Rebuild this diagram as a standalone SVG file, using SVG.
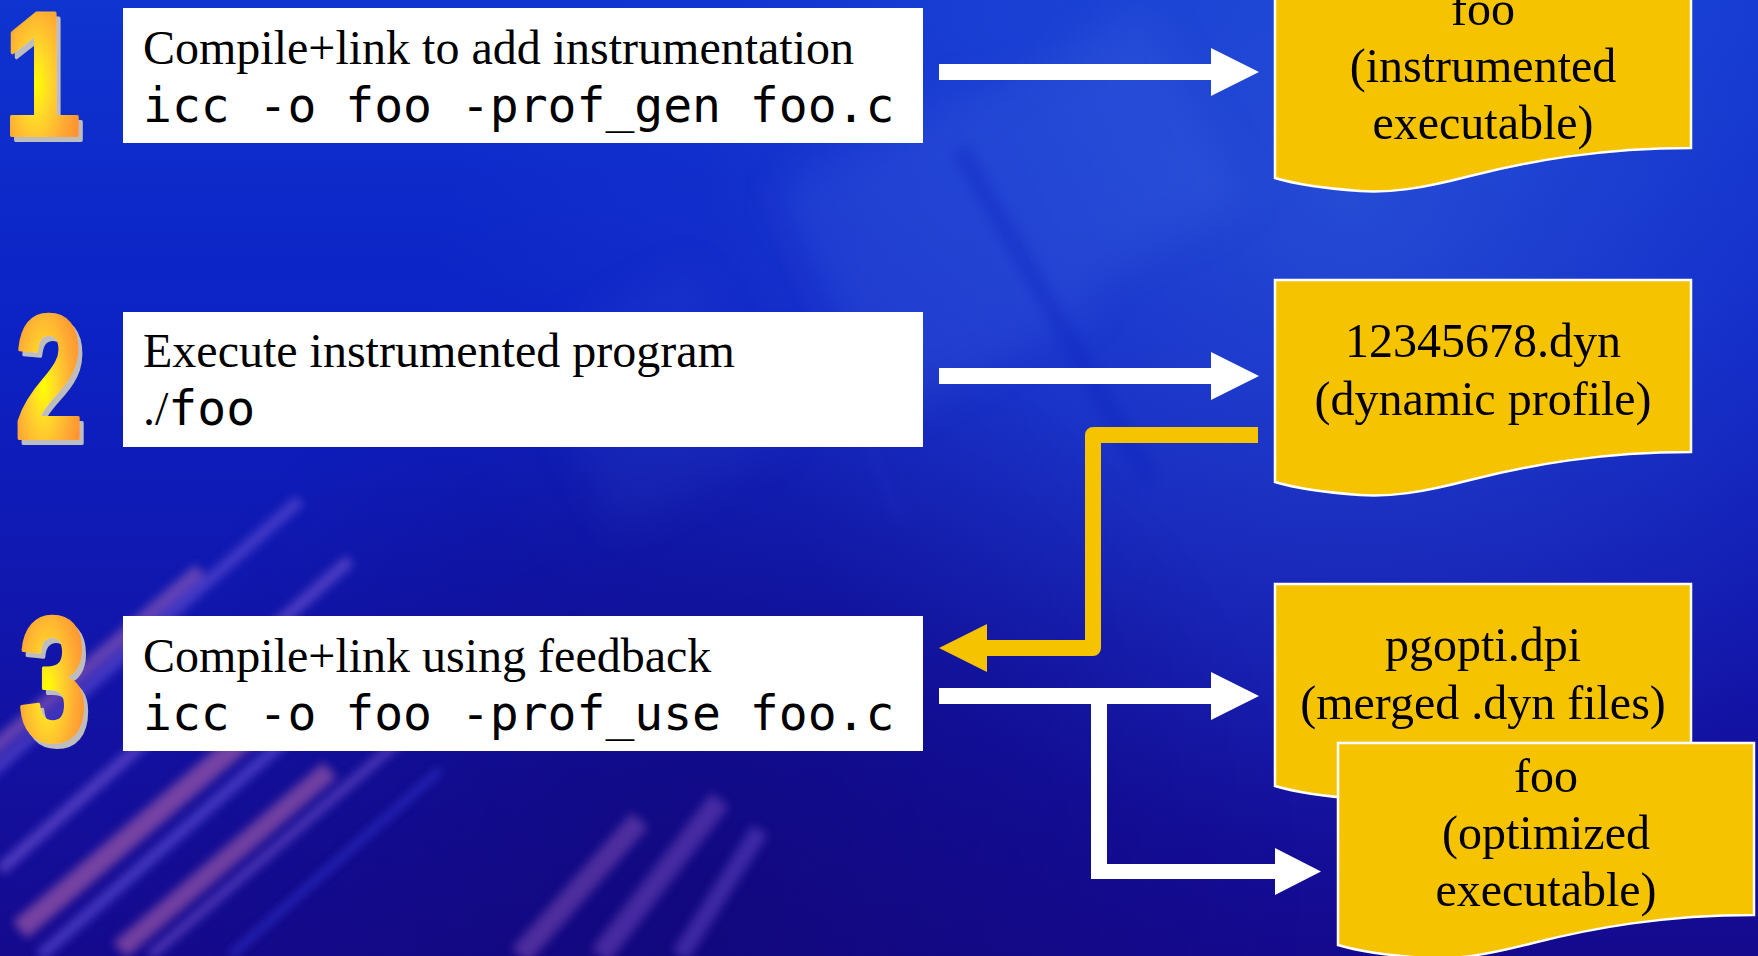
<svg xmlns="http://www.w3.org/2000/svg" xmlns:xlink="http://www.w3.org/1999/xlink" width="1758" height="956" viewBox="0 0 1758 956">
  <defs>
    <style>
      .box { fill: #ffffff; }
      .serif { font-family: "Liberation Serif", "Times New Roman", serif; font-size: 48px; fill: #000000; }
      .mono { font-family: "DejaVu Sans Mono", "Liberation Mono", monospace; font-size: 48px; fill: #000000; }
      .doctext { font-family: "Liberation Serif", "Times New Roman", serif; font-size: 48px; fill: #000000; text-anchor: middle; }
      .digit { font-family: "Liberation Sans", Arial, sans-serif; font-weight: bold; font-size: 176px; text-anchor: middle;
               fill: url(#digitGrad); stroke: url(#digitGrad); stroke-width: 4; stroke-linejoin: round; filter: url(#digitShadow); }
      .doc { fill: #f5c300; stroke: #ffffff; stroke-width: 2.5; }
      .flow { fill: #ffffff; }
      .feedback { fill: none; stroke: #f5c300; stroke-width: 16; stroke-linejoin: round; }
      .feedback-head { fill: #f5c300; }
    </style>

    <linearGradient id="bgBase" x1="0" y1="0" x2="0" y2="1">
      <stop offset="0" stop-color="#0f34d0"/>
      <stop offset="0.35" stop-color="#0c22c4"/>
      <stop offset="0.7" stop-color="#1214a8"/>
      <stop offset="1" stop-color="#150a8e"/>
    </linearGradient>
    <radialGradient id="glowTR" cx="1350" cy="200" r="650" gradientUnits="userSpaceOnUse">
      <stop offset="0" stop-color="#3d6ce0" stop-opacity="0.5"/>
      <stop offset="1" stop-color="#3d6ce0" stop-opacity="0"/>
    </radialGradient>
    <radialGradient id="glowMid" cx="850" cy="300" r="420" gradientUnits="userSpaceOnUse">
      <stop offset="0" stop-color="#2a48d8" stop-opacity="0.25"/>
      <stop offset="1" stop-color="#2a48d8" stop-opacity="0"/>
    </radialGradient>
    <radialGradient id="darkBR" cx="700" cy="900" r="600" gradientUnits="userSpaceOnUse">
      <stop offset="0" stop-color="#10066e" stop-opacity="0.55"/>
      <stop offset="1" stop-color="#10066e" stop-opacity="0"/>
    </radialGradient>
    <radialGradient id="digitGrad" cx="0.42" cy="0.55" r="0.6">
      <stop offset="0" stop-color="#ffff00"/>
      <stop offset="0.3" stop-color="#ffd82a"/>
      <stop offset="0.7" stop-color="#ffa834"/>
      <stop offset="1" stop-color="#ff9030"/>
    </radialGradient>
    <filter id="digitShadow" x="-10%" y="-10%" width="130%" height="130%">
      <feFlood flood-color="#bdbdbd" result="grey"/>
      <feComposite in="grey" in2="SourceAlpha" operator="in" result="silhouette"/>
      <feOffset in="silhouette" dx="5" dy="5" result="dropped"/>
      <feMerge>
        <feMergeNode in="dropped"/>
        <feMergeNode in="SourceGraphic"/>
      </feMerge>
    </filter>
    <filter id="soft" x="-20%" y="-20%" width="140%" height="140%">
      <feGaussianBlur stdDeviation="5"/>
    </filter>
    <filter id="softer" x="-30%" y="-30%" width="160%" height="160%">
      <feGaussianBlur stdDeviation="20"/>
    </filter>

    <!-- document shape: flat top, wavy bottom edge -->
    <path id="docShape" d="M0,0 H416 V172 C325,172 255,185 195,200 C145,213 115,217 85,215 C45,212 20,208 0,202 Z"/>
  </defs>

  <!-- backdrop -->
  <g id="background">
    <rect width="1758" height="956" fill="url(#bgBase)"/>
    <rect width="1758" height="956" fill="url(#glowTR)"/>
    <rect width="1758" height="956" fill="url(#glowMid)"/>
    <g filter="url(#softer)" opacity="0.2">
      <rect x="820" y="120" width="230" height="260" fill="#4a6ee6" transform="rotate(-28 935 250)"/>
      <rect x="1010" y="40" width="200" height="220" fill="#4a72e8" transform="rotate(-28 1110 150)"/>
      <rect x="560" y="300" width="190" height="200" fill="#3a55d8" transform="rotate(-28 655 400)"/>
    </g>
    <g filter="url(#soft)" opacity="0.3">
      <line x1="960" y1="150" x2="1150" y2="480" stroke="#1020c0" stroke-width="18"/>
      <line x1="760" y1="180" x2="900" y2="520" stroke="#2233cc" stroke-width="14"/>
    </g>
    <rect width="1758" height="956" fill="url(#darkBR)"/>
    <!-- diagonal streaks, lower left -->
    <g filter="url(#soft)" opacity="0.7">
      <line x1="-40" y1="800" x2="300" y2="500" stroke="#5a48d0" stroke-width="12"/>
      <line x1="0" y1="870" x2="350" y2="560" stroke="#6a50d0" stroke-width="12"/>
      <line x1="40" y1="956" x2="410" y2="630" stroke="#5a48d0" stroke-width="12"/>
      <line x1="150" y1="956" x2="470" y2="680" stroke="#6a4cc8" stroke-width="9"/>
      <line x1="20" y1="930" x2="290" y2="700" stroke="#a05aa8" stroke-width="22"/>
      <line x1="120" y1="950" x2="330" y2="770" stroke="#9a56a8" stroke-width="20"/>
      <line x1="230" y1="956" x2="440" y2="770" stroke="#3438d6" stroke-width="6"/>
      <line x1="-20" y1="760" x2="200" y2="570" stroke="#8a58b8" stroke-width="14"/>
    </g>
    <!-- diagonal streaks, lower middle -->
    <g filter="url(#soft)" opacity="0.5">
      <line x1="520" y1="956" x2="640" y2="820" stroke="#8a52b8" stroke-width="22"/>
      <line x1="600" y1="956" x2="720" y2="800" stroke="#7a4cc0" stroke-width="22"/>
      <line x1="680" y1="956" x2="760" y2="830" stroke="#6a4ac8" stroke-width="18"/>
    </g>
  </g>

  <!-- connectors -->
  <g id="connectors">
    <!-- step 1 to instrumented executable -->
    <path class="flow" d="M939,64 H1211 V48 L1259,72 L1211,96 V80 H939 Z"/>
    <!-- step 2 to dynamic profile -->
    <path class="flow" d="M939,368 H1211 V352 L1259,376 L1211,400 V384 H939 Z"/>
    <!-- profile fed back into step 3 -->
    <path class="feedback" d="M1258,435 H1093 V648 H984"/>
    <path class="feedback-head" d="M987,624 L939,648 L987,672 Z"/>
    <!-- step 3 to merged profile -->
    <path class="flow" d="M939,688 H1211 V672 L1259,696 L1211,720 V704 H939 Z"/>
    <!-- step 3 to optimized executable -->
    <path class="flow" d="M1091,700 H1107 V864 H1275 V848 L1321,871.5 L1275,895 V879 H1091 Z"/>
  </g>

  <!-- step 1 -->
  <g id="step1">
    <text class="digit" transform="translate(42,135) scale(0.8,1)">1</text>
    <rect class="box" x="123" y="8" width="800" height="135"/>
    <text class="serif" x="143" y="64">Compile+link to add instrumentation</text>
    <text class="mono" x="143" y="122">icc -o foo -prof_gen foo.c</text>
  </g>

  <!-- step 2 -->
  <g id="step2">
    <text class="digit" transform="translate(49,438) scale(0.7,1)">2</text>
    <rect class="box" x="123" y="312" width="800" height="135"/>
    <text class="serif" x="143" y="367">Execute instrumented program</text>
    <text class="serif" x="143" y="425">./<tspan class="mono">foo</tspan></text>
  </g>

  <!-- step 3 -->
  <g id="step3">
    <text class="digit" transform="translate(53,740) scale(0.7,1)">3</text>
    <rect class="box" x="123" y="616" width="800" height="135"/>
    <text class="serif" x="143" y="672">Compile+link using feedback</text>
    <text class="mono" x="143" y="730">icc -o foo -prof_use foo.c</text>
  </g>

  <!-- output files -->
  <g id="instrumented-exe">
    <use href="#docShape" class="doc" x="1275" y="-24"/>
    <text class="doctext" x="1483" y="25">foo</text>
    <text class="doctext" x="1483" y="82">(instrumented</text>
    <text class="doctext" x="1483" y="139">executable)</text>
  </g>

  <g id="dyn-profile">
    <use href="#docShape" class="doc" x="1275" y="280"/>
    <text class="doctext" x="1483" y="357">12345678.dyn</text>
    <text class="doctext" x="1483" y="415">(dynamic profile)</text>
  </g>

  <g id="merged-profile">
    <use href="#docShape" class="doc" x="1275" y="584"/>
    <text class="doctext" x="1483" y="661">pgopti.dpi</text>
    <text class="doctext" x="1483" y="719">(merged .dyn files)</text>
  </g>

  <g id="optimized-exe">
    <use href="#docShape" class="doc" x="1338" y="743"/>
    <text class="doctext" x="1546" y="792">foo</text>
    <text class="doctext" x="1546" y="849">(optimized</text>
    <text class="doctext" x="1546" y="906">executable)</text>
  </g>
</svg>
